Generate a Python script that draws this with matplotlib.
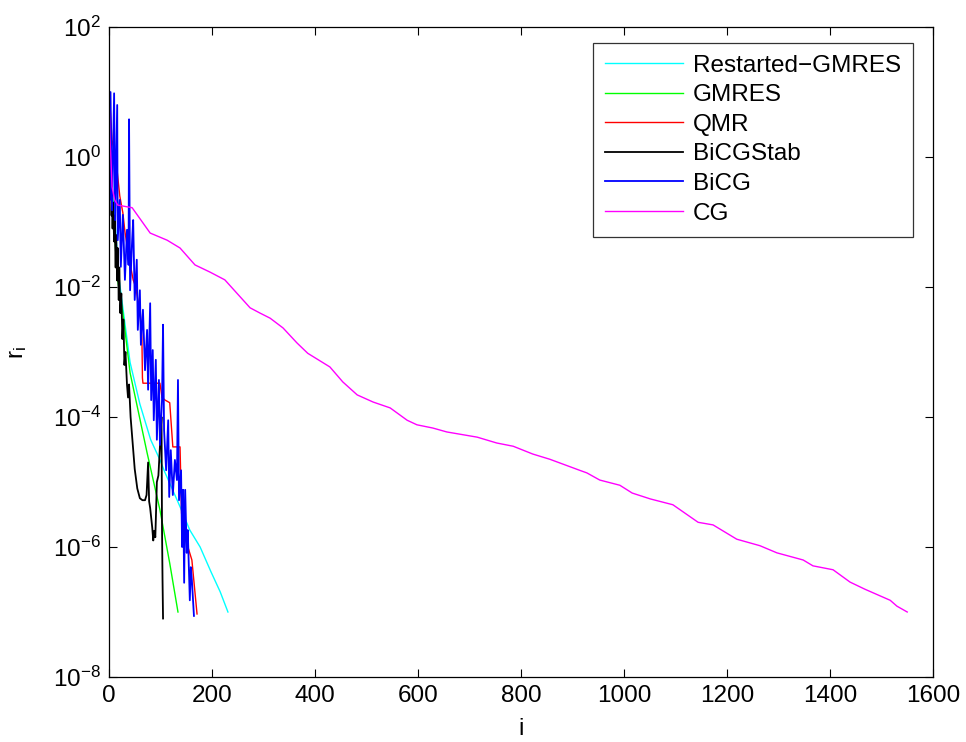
import matplotlib
matplotlib.use('Agg')
import matplotlib.pyplot as plt
import numpy as np
from matplotlib.ticker import FixedLocator, NullLocator, LogFormatterSciNotation

# iteration numbers and log10 of the residual
rgmres_it = [0, 8, 20, 30, 41, 60, 81, 99, 108, 138, 157, 177, 198, 216, 231]
rgmres_lg = [1.05, -0.6, -1.9, -2.5, -3.16, -3.8, -4.35, -4.66, -4.84, -5.38, -5.74, -6.0, -6.38, -6.69, -7.0]

gmres_it = [0, 6, 16, 27, 41, 74, 99, 118, 134]
gmres_lg = [1.05, -0.5, -1.85, -2.4, -3.32, -4.55, -5.43, -6.25, -7.0]

qmr_it = [0, 6, 15, 21, 27, 31, 40, 47, 52, 56, 60, 64, 65, 66, 99, 103, 109, 118, 124, 138, 141, 151, 161, 171]
qmr_lg = [1.05, 0.26, -0.15, -0.6, -0.86, -1.15, -1.6, -1.89, -2.0, -2.2, -2.3, -2.8, -3.4, -3.48, -3.48,
          -3.7, -3.74, -3.78, -4.46, -4.46, -5.48, -5.94, -6.2, -7.03]

bicgstab_it = [0, 2, 3, 4, 5, 6, 7, 8, 10, 11, 13, 14, 16, 17, 19, 20, 22, 24, 26, 28, 30, 32, 35, 37, 39,
               42, 45, 48, 50, 55, 60, 65, 70, 73, 76, 78, 80, 84, 86, 88, 90, 92, 93, 96, 98, 100, 102,
               103, 104, 105]
bicgstab_lg = [1.05, 0.0, -0.5, -0.2, -0.9, -0.6, -1.1, -0.7, -1.3, -0.9, -1.7, -1.2, -1.9, -1.4, -2.2,
               -1.7, -2.4, -2.1, -2.8, -2.5, -3.2, -3.0, -3.5, -3.7, -3.5, -4.0, -4.3, -4.6, -4.8, -5.1,
               -5.25, -5.28, -5.28, -5.2, -4.7, -5.3, -5.4, -5.7, -5.9, -5.75, -5.85, -5.3, -5.0, -4.9,
               -4.6, -4.3, -4.0, -5.7, -6.5, -7.1]

bicg_it = [0, 2, 3, 6, 10, 12, 16, 17, 21, 23, 27, 31, 35, 38, 39, 41, 45, 47, 50, 54, 56, 60, 62, 66, 70,
           74, 76, 80, 82, 85, 87, 91, 93, 97, 99, 103, 105, 107, 111, 115, 117, 120, 124, 128, 132, 134,
           136, 140, 142, 144, 146, 148, 151, 153, 157, 159, 161, 165]
bicg_lg = [1.05, -0.66, 1.0, -0.82, 0.98, -0.97, 0.8, -1.28, -0.66, -1.69, -0.89, -1.89, -1.12, -1.66,
           0.58, -2.05, -1.28, -0.97, -2.2, -1.58, -2.66, -2.05, -2.89, -2.35, -3.28, -2.66, -3.58,
           -2.25, -3.74, -2.97, -4.05, -3.12, -4.35, -3.43, -4.43, -3.74, -2.58, -4.2, -4.82, -4.05,
           -5.23, -4.51, -5.2, -4.66, -4.97, -3.43, -5.28, -4.82, -6.0, -5.12, -6.55, -5.12, -6.09,
           -5.74, -6.82, -6.31, -6.51, -7.06]

cg_it = [0, 2, 6, 11, 17, 45, 80, 113, 138, 167, 196, 225, 274, 293, 313, 338, 365, 386, 429, 454, 482,
         513, 546, 579, 598, 629, 656, 715, 753, 785, 823, 856, 914, 928, 953, 992, 1016, 1051, 1095,
         1144, 1173, 1219, 1264, 1297, 1348, 1367, 1406, 1439, 1468, 1517, 1530, 1550]
cg_lg = [1.06, 0.31, -0.46, -0.66, -0.74, -0.78, -1.17, -1.28, -1.40, -1.66, -1.77, -1.89, -2.32, -2.40,
         -2.48, -2.63, -2.86, -3.02, -3.23, -3.46, -3.66, -3.77, -3.86, -4.05, -4.12, -4.17, -4.23,
         -4.31, -4.40, -4.45, -4.57, -4.65, -4.82, -4.86, -4.97, -5.05, -5.17, -5.26, -5.35, -5.62,
         -5.66, -5.88, -5.98, -6.09, -6.20, -6.29, -6.35, -6.54, -6.65, -6.82, -6.91, -7.00]

series = [
    ('Restarted\u2212GMRES', rgmres_it, rgmres_lg, '#00ffff'),
    ('GMRES', gmres_it, gmres_lg, '#00ff00'),
    ('QMR', qmr_it, qmr_lg, '#ff0000'),
    ('BiCGStab', bicgstab_it, bicgstab_lg, '#000000'),
    ('BiCG', bicg_it, bicg_lg, '#0000ff'),
    ('CG', cg_it, cg_lg, '#ff00ff'),
]

plt.rcParams['font.family'] = ['Liberation Sans', 'DejaVu Sans']
plt.rcParams['mathtext.fontset'] = 'custom'
plt.rcParams['mathtext.rm'] = 'Liberation Sans'
plt.rcParams['mathtext.default'] = 'regular'

fs = 17.5

fig = plt.figure(figsize=(9.66, 7.42), dpi=100)
ax = fig.add_axes([0.1128, 0.0876, 0.853, 0.876])

for name, it, lg, col in series:
    lw = 1.3 if name in ('BiCG', 'BiCGStab') else 1.0
    ax.semilogy(it, 10.0 ** np.array(lg), color=col, lw=lw, label=name)

ax.set_xlim(0, 1600)
ax.set_ylim(1e-8, 1e2)
ax.set_xticks(np.arange(0, 1601, 200))
ax.yaxis.set_major_locator(FixedLocator([1e-8, 1e-6, 1e-4, 1e-2, 1e0, 1e2]))
ax.yaxis.set_major_formatter(LogFormatterSciNotation())
ax.yaxis.set_minor_locator(NullLocator())

ax.tick_params(which='both', direction='in', top=True, right=True, length=6, width=0.8,
               labelsize=fs, pad=6)
for sp in ax.spines.values():
    sp.set_linewidth(0.9)

ax.set_xlabel('i', fontsize=fs, labelpad=8)
ax.set_ylabel('r$_{i}$', fontsize=fs, labelpad=17)

leg = ax.legend(loc='upper right', fontsize=fs, frameon=True, fancybox=False, edgecolor='black',
                handlelength=3.2, handletextpad=0.42, labelspacing=0.31, borderpad=0.5,
                borderaxespad=0, bbox_to_anchor=(0.976, 0.976))
leg.get_frame().set_linewidth(0.9)

fig.savefig('out.png', dpi=100, facecolor='white')
